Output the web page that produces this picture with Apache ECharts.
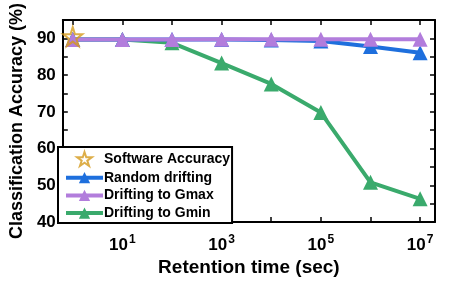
<!DOCTYPE html>
<html><head><meta charset="utf-8">
<script src="https://cdn.jsdelivr.net/npm/echarts@6/dist/echarts.min.js"></script>
<style>html,body{margin:0;padding:0;background:#fff}#c{width:450px;height:283px}</style>
</head><body><div id="c"></div>
<script>
const retentionTimes = [1, 10, 100, 1000, 1e4, 1e5, 1e6, 1e7];
const softwareAccuracy = [[1, 90.5]];
const randomDrifting = [89.7, 89.7, 89.7, 89.7, 89.6, 89.3, 87.8, 86.1];
const driftingGmax = [89.7, 89.7, 89.7, 89.8, 89.8, 89.8, 89.8, 89.8];
const driftingGmin = [89.7, 89.7, 88.8, 83.3, 77.6, 69.8, 50.8, 46.3];
const xTickValues = [1, 10, 100, 1000, 1e4, 1e5, 1e6, 1e7];
const xLabelValues = [10, 1000, 1e5, 1e7];
const yTicks = [40, 50, 60, 70, 80, 90];

const FONT = 'Liberation Sans, Arial, sans-serif';
const pair = (ys) => retentionTimes.map((t, i) => [t, ys[i]]);
const STAR = 'path://M50,2 L61.2,36.5 L97.6,36.5 L68.2,57.9 L79.4,92.5 L50,71.1 L20.6,92.5 L31.8,57.9 L2.4,36.5 L38.8,36.5 Z';

const baseX = {
  type: 'log', min: Math.pow(10, -0.2), max: Math.pow(10, 7.3),
  axisLine: { lineStyle: { color: '#000', width: 2 } },
  axisTick: { inside: true, length: 5, lineStyle: { color: '#000', width: 1.5 }, customValues: xTickValues },
  splitLine: { show: false }, minorTick: { show: false }
};
const baseY = {
  type: 'value', min: 40, max: 95, interval: 10,
  axisLine: { show: true, lineStyle: { color: '#000', width: 2 } },
  axisTick: { inside: true, length: 5, lineStyle: { color: '#000', width: 1.5 } },
  minorTick: { show: true, splitNumber: 2, length: 5, lineStyle: { color: '#000', width: 1.5 } },
  splitLine: { show: false }
};

const chart = echarts.init(document.getElementById('c'));
chart.setOption({
  animation: false,
  backgroundColor: '#fff',
  grid: { left: 59, right: 15, top: 20, bottom: 61, containLabel: false },
  xAxis: [
    Object.assign({}, baseX, {
      position: 'bottom',
      name: 'Retention time (sec)', nameLocation: 'middle', nameGap: 35,
      nameTextStyle: { fontFamily: FONT, fontWeight: 'bold', fontSize: 19, color: '#000' },
      axisLabel: {
        customValues: xLabelValues, margin: 12,
        formatter: (v) => '{b|10}{s|' + Math.round(Math.log10(v)) + '}',
        rich: {
          b: { fontFamily: FONT, fontWeight: 'bold', fontSize: 17, color: '#000' },
          s: { fontFamily: FONT, fontWeight: 'bold', fontSize: 12, color: '#000', padding: [0, 0, 10, 1] }
        }
      }
    }),
    Object.assign({}, baseX, { position: 'top', axisLabel: { show: false } })
  ],
  yAxis: [
    Object.assign({}, baseY, {
      position: 'left',
      name: 'Classification Accuracy (%)', nameLocation: 'middle', nameGap: 34,
      nameTextStyle: { fontFamily: FONT, fontWeight: 'bold', fontSize: 18, color: '#000' },
      axisLabel: { fontFamily: FONT, fontWeight: 'bold', fontSize: 17, color: '#000', margin: 7,
        customValues: yTicks }
    }),
    Object.assign({}, baseY, { position: 'right', axisLabel: { show: false } })
  ],
  legend: {
    data: ['Software Accuracy', 'Random drifting', 'Drifting to Gmax', 'Drifting to Gmin'],
    orient: 'vertical', left: 58, top: 147,
    borderColor: '#000', borderWidth: 2, borderRadius: 0,
    padding: [4, 2, 3, 6], itemGap: 3.7,
    itemWidth: 37, itemHeight: 14,
    lineStyle: { width: 4 },
    textStyle: { fontFamily: FONT, fontWeight: 'bold', fontSize: 14, lineHeight: 14, color: '#000', padding: [0, 0, 0, -4] },
    backgroundColor: '#fff'
  },
  series: [
    {
      name: 'Drifting to Gmin', type: 'line', data: pair(driftingGmin), z: 2,
      color: '#3aaa6c', lineStyle: { width: 4 }, symbol: 'triangle', symbolSize: 15,
      itemStyle: { color: '#3aaa6c' }
    },
    {
      name: 'Random drifting', type: 'line', data: pair(randomDrifting), z: 3,
      color: '#1e6fdd', lineStyle: { width: 4 }, symbol: 'triangle', symbolSize: 15,
      itemStyle: { color: '#1e6fdd' }
    },
    {
      name: 'Drifting to Gmax', type: 'line', data: pair(driftingGmax), z: 4,
      color: '#b27ddc', lineStyle: { width: 4 }, symbol: 'triangle', symbolSize: 15,
      itemStyle: { color: '#b27ddc' }
    },
    {
      name: 'Software Accuracy', type: 'scatter', data: softwareAccuracy, z: 5,
      symbol: STAR, symbolSize: 19,
      itemStyle: { color: 'rgba(255,255,255,0)', borderColor: '#d49a1c', borderWidth: 2 }
    }
  ]
});
</script>
</body></html>
